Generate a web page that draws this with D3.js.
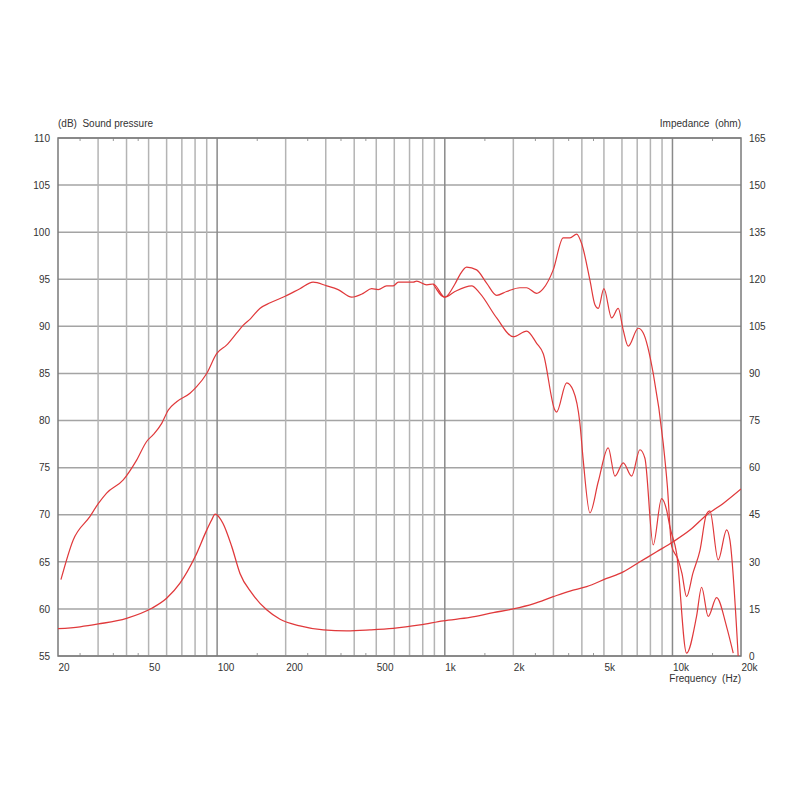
<!DOCTYPE html>
<html><head><meta charset="utf-8">
<script src="https://cdn.jsdelivr.net/npm/d3@7"></script>
<style>
html,body{margin:0;padding:0;background:#fff;}
svg text{font-family:"Liberation Sans",Arial,sans-serif;font-size:10px;fill:#333;}
</style></head>
<body><svg id="c" width="800" height="800"></svg>
<script>
// ---- data ----
const freqLabels = [20,50,100,200,500,1000,2000,5000,10000,20000];
const freqLabelText = ["20","50","100","200","500","1k","2k","5k","10k","20k"];
const gridFreqs = [30,40,50,60,70,80,90,100,200,300,400,500,600,700,800,900,1000,2000,3000,4000,5000,6000,7000,8000,9000,10000];
const majorFreqs = [100,1000,10000];
const minorTickFreqs = [25,35,45,150,250,350,450,1500,2500,3500,4500,15000];
const dbTicks = [55,60,65,70,75,80,85,90,95,100,105,110];
const ohmTicks = [0,15,30,45,60,75,90,105,120,135,150,165];

const splOnFreq = [20.6,23.3,27.6,30.1,32.7,38.7,44.3,49.1,52.4,57.1,61,66.4,76,81.3,90,99.5,110,122,130,140,154,171,199,231,264,303,340,390,438,477,510,555,594,625,727,752,833,890,1001,1108,1166,1247,1380,1526,1690,1869,2138,2288,2532,2707,2994,3312,3546,3794,3990,4340,4565,4720,5000,5405,5778,6078,6393,7074,7441,8232,9106,9500,9912,10600,11000,11535,12300,13200,14126,14604,15882,17294,17880,19436];
const splOnDb   = [63.1,67.3,69.8,71.2,72.3,73.7,75.8,77.8,78.5,79.7,81.1,82.0,82.9,83.6,85.0,87.1,88.0,89.3,90.1,90.8,91.9,92.5,93.2,94.0,94.7,94.3,93.9,93.1,93.5,94.0,93.9,94.3,94.3,94.7,94.7,94.8,94.4,94.5,93.1,94.5,95.5,96.3,96.0,94.6,93.3,93.7,94.1,94.1,93.5,94.0,96.0,99.4,99.4,99.8,98.8,94.9,92.3,91.9,94.0,90.9,91.9,89.6,87.9,89.8,89.3,85.0,77.6,73.0,66.7,65.2,63.8,61.3,63.8,66.2,70.1,70.4,65.2,68.4,67.3,55.0];

const splOffFreq = [890,1001,1108,1312,1427,1690,1998,2288,2532,2707,3046,3098,3428,3664,3922,4055,4340,4720,5222,5588,6078,6617,7194,7568,8232,8955,9422,9744,10430,11535,12757,13428,14354,15626,17294,18492];
const splOffDb   = [94.5,93.1,93.7,94.3,93.5,90.9,88.9,89.5,88.2,87.1,81.1,80.9,84.0,83.2,79.7,75.8,70.2,73.5,77.1,74.1,75.5,74.1,76.9,76.0,66.8,71.7,70.5,68.7,65.9,55.3,59.2,62.3,59.2,61.2,58.1,55.3];

const impFreq = [20,25,30.1,40,51.6,60,68.7,80,90,94.6,98,106,116,126,142,165,189,231,293,371,469,594,778,984,1290,1632,1998,2446,2994,3546,4198,5138,6078,7194,8518,10076,11932,14126,16706,20000];
const impOhm  = [8.7,9.3,10.2,12.0,15.2,18.4,23.2,31.6,40.1,43.3,45.2,42.3,34.8,26.3,20.0,14.7,11.7,9.6,8.3,8.0,8.3,8.8,9.9,11.2,12.3,13.8,15.0,16.6,18.9,20.7,22.1,24.7,26.8,30.0,33.2,36.4,40.1,44.9,48.6,53.2];

// ---- layout ----
const L=58, R=741, T=138, B=656;
const svg = d3.select("#c");
const x = d3.scaleLog().domain([20,20000]).range([L,R]);
const yL = d3.scaleLinear().domain([55,110]).range([B,T]);
const yR = d3.scaleLinear().domain([0,165]).range([B,T]);

svg.append("defs").append("clipPath").attr("id","clip")
  .append("rect").attr("x",L).attr("y",T).attr("width",R-L).attr("height",B-T);

// horizontal grid
svg.append("g").selectAll("line").data(dbTicks).join("line")
  .attr("x1",L).attr("x2",R).attr("y1",d=>yL(d)).attr("y2",d=>yL(d))
  .attr("stroke","#a4a4a4").attr("stroke-width",1.5);
// vertical grid
svg.append("g").selectAll("line").data(gridFreqs).join("line")
  .attr("x1",d=>x(d)).attr("x2",d=>x(d)).attr("y1",T).attr("y2",B)
  .attr("stroke",d=>majorFreqs.includes(d)?"#8a8a8a":"#b4b4b4").attr("stroke-width",1.5);
// minor ticks top/bottom
const mt = svg.append("g");
mt.selectAll("line.b").data(minorTickFreqs).join("line").attr("class","b")
  .attr("x1",d=>x(d)).attr("x2",d=>x(d)).attr("y1",B).attr("y2",B-3)
  .attr("stroke","#999").attr("stroke-width",1);
mt.selectAll("line.t").data(minorTickFreqs).join("line").attr("class","t")
  .attr("x1",d=>x(d)).attr("x2",d=>x(d)).attr("y1",T).attr("y2",T+3)
  .attr("stroke","#999").attr("stroke-width",1);
// frame
svg.append("rect").attr("x",L).attr("y",T).attr("width",R-L).attr("height",B-T)
  .attr("fill","none").attr("stroke","#7a7a7a").attr("stroke-width",1.5);

// axes (labels only)
const axL = svg.append("g").attr("transform",`translate(${L},0)`)
  .call(d3.axisLeft(yL).tickValues(dbTicks).tickSize(0).tickPadding(8).tickFormat(d3.format("d")));
const axR = svg.append("g").attr("transform",`translate(${R},0)`)
  .call(d3.axisRight(yR).tickValues(ohmTicks).tickSize(0).tickPadding(8).tickFormat(d3.format("d")));
const axB = svg.append("g").attr("transform",`translate(0,${B})`)
  .call(d3.axisBottom(x).tickValues(freqLabels).tickSize(0).tickPadding(5)
    .tickFormat((d,i)=>freqLabelText[i]));
[axL,axR,axB].forEach(a=>{a.select(".domain").remove(); a.selectAll("text").attr("fill","#333").style("font-size","10px").style("font-family","'Liberation Sans',Arial,sans-serif");});
axB.selectAll("text").attr("text-anchor","start").attr("dy","0.95em");

// titles
svg.append("text").attr("x",L).attr("y",127).text("(dB)  Sound pressure").style("white-space","pre");
svg.append("text").attr("x",R).attr("y",127).attr("text-anchor","end").text("Impedance  (ohm)").style("white-space","pre");
svg.append("text").attr("x",R).attr("y",682).attr("text-anchor","end").text("Frequency  (Hz)").style("white-space","pre");

// curves
const g = svg.append("g").attr("clip-path","url(#clip)");
const lineL = d3.line().x(d=>x(d[0])).y(d=>yL(d[1])).curve(d3.curveMonotoneX);
const lineR = d3.line().x(d=>x(d[0])).y(d=>yR(d[1])).curve(d3.curveMonotoneX);
const col = "#e0393b";
g.append("path").datum(d3.zip(impFreq,impOhm)).attr("d",lineR).attr("fill","none").attr("stroke",col).attr("stroke-width",1.3);
g.append("path").datum(d3.zip(splOffFreq,splOffDb)).attr("d",lineL).attr("fill","none").attr("stroke",col).attr("stroke-width",1.2);
g.append("path").datum(d3.zip(splOnFreq,splOnDb)).attr("d",lineL).attr("fill","none").attr("stroke",col).attr("stroke-width",1.2);
</script></body></html>
